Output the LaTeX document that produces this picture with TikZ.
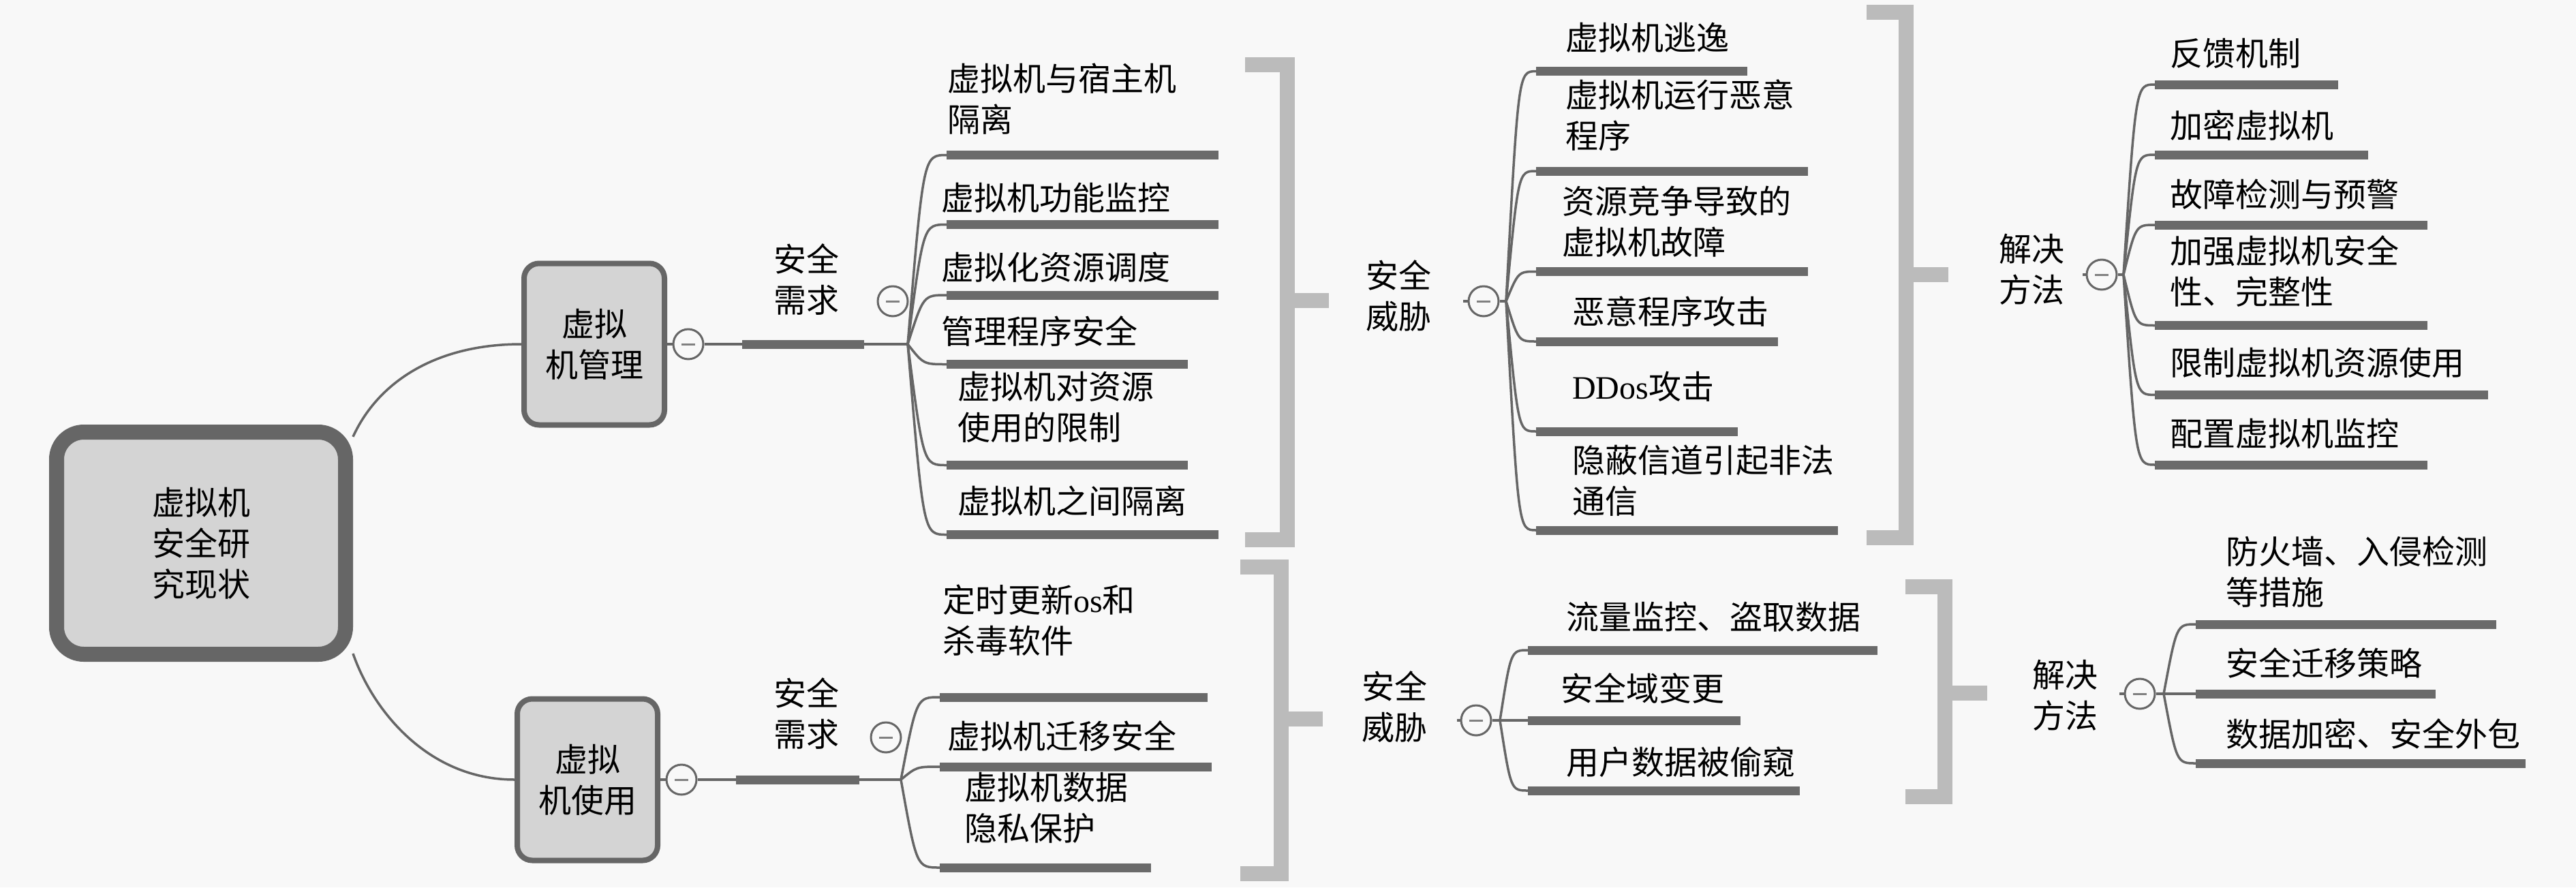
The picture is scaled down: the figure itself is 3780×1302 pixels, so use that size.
\documentclass[tikz,border=0pt]{standalone}
\usepackage{fontspec}
\setmainfont{Liberation Serif}
\newfontfamily\cjk{Noto Sans CJK SC}
\definecolor{bgc}{HTML}{F8F8F8}
\definecolor{dk}{HTML}{666666}
\definecolor{barc}{HTML}{6A6A6A}
\definecolor{brk}{HTML}{BBBBBB}
\definecolor{nfill}{HTML}{D4D4D4}
\newcommand\leaf[7]{%
  \coordinate (#1) at (#2,#3);
  \draw[barline] (#1) -- (#4,#3);
  \node[lbl] (#1t) at (#5,#6) {#7};
}
\begin{document}
\begin{tikzpicture}[x=1pt,y=-1pt,
  every node/.style={font=\cjk\fontsize{48}{60}\selectfont, text=black, inner sep=0pt},
  mainbox/.style={draw=dk, fill=nfill, rounded corners=40pt, line width=22pt, minimum width=424pt, minimum height=326pt, align=center},
  subbox/.style={draw=dk, fill=nfill, rounded corners=22pt, line width=8pt, minimum width=206pt, minimum height=237pt, align=center},
  collapse/.style={circle, draw=dk, line width=3pt, minimum size=44pt,
     path picture={\draw[line width=3pt, draw=gray] ([xshift=-10pt]path picture bounding box.center) -- ([xshift=10pt]path picture bounding box.center);}},
  lbl/.style={anchor=west, align=left},
  sumlbl/.style={align=center},
  barline/.style={draw=barc, line width=13pt},
  branch/.style={draw=dk, line width=3.5pt},
  brace/.style={draw=brk, line width=22pt, line join=miter}]
\fill[bgc] (0,0) rectangle (3780,1302);
\useasboundingbox (0,0) rectangle (3780,1302);

% main nodes
\node[mainbox] (root) at (295,797) {虚拟机\\安全研\\究现状};
\node[subbox] (vm1) at (872,505) {虚拟\\机管理};
\node[subbox] (vm2) at (862,1144) {虚拟\\机使用};
\draw[branch] (root.35) .. controls (555,560) and (640,505) .. (vm1.west);
\draw[branch] (root.-36) .. controls (548,1045) and (630,1144) .. (vm2.west);

% ---------- upper: 安全需求 ----------
\node[collapse] (c1) at (1010,505) {};
\draw[branch] (vm1.east) -- (c1.west);
\coordinate (s1a) at (1089,505);
\coordinate (s1b) at (1268,505);
\coordinate (j1) at (1332,505);
\draw[branch] (c1.east) -- (s1a);
\draw[barline] (s1a) -- (s1b);
\draw[branch] (s1b) -- (j1);
\node[sumlbl] (req1) at (1183,410) {安全\\需求};
\node[collapse] (c3) at (1310,442) {};

\leaf{a1}{1389}{227.5}{1788}{1390}{145.5}{虚拟机与宿主机\\隔离}
\leaf{a2}{1389}{329.5}{1788}{1381}{290}{虚拟机功能监控}
\leaf{a3}{1389}{433}{1788}{1381}{392}{虚拟化资源调度}
\leaf{a4}{1389}{534.5}{1743}{1381}{486}{管理程序安全}
\leaf{a5}{1389}{682.5}{1743}{1405}{597.5}{虚拟机对资源\\使用的限制}
\leaf{a6}{1389}{784.5}{1788}{1405}{735}{虚拟机之间隔离}
\draw[branch] (j1) .. controls (1355,227.5) .. (a1);
\draw[branch] (j1) .. controls (1355,329.5) .. (a2);
\draw[branch] (j1) .. controls (1355,433) .. (a3);
\draw[branch] (j1) .. controls (1355,534.5) .. (a4);
\draw[branch] (j1) .. controls (1355,682.5) .. (a5);
\draw[branch] (j1) .. controls (1355,784.5) .. (a6);

\draw[brace] (1827,95) -- (1889,95) -- (1889,792) -- (1827,792);
\draw[brace] (1889,441) -- (1950,441);

% ---------- upper: 安全威胁 ----------
\node[sumlbl] (thr1) at (2052,434) {安全\\威胁};
\node[collapse] (c4) at (2177,442) {};
\coordinate (c4s) at (2147,442);
\coordinate (j2) at (2210,442);
\draw[branch] (c4s) -- (c4.west);
\draw[branch] (c4.east) -- (j2);
\leaf{b1}{2254}{104.6}{2564}{2297}{55}{虚拟机逃逸}
\leaf{b2}{2254}{251}{2653}{2297}{169.5}{虚拟机运行恶意\\程序}
\leaf{b3}{2254}{398.5}{2653}{2292}{325.5}{资源竞争导致的\\虚拟机故障}
\leaf{b4}{2254}{501}{2609}{2307}{457.6}{恶意程序攻击}
\leaf{b5}{2254}{633}{2550}{2307}{567.5}{{\rmfamily DDos}攻击}
\leaf{b6}{2254}{778}{2697}{2307}{705}{隐蔽信道引起非法\\通信}
\draw[branch] (j2) .. controls (2228,104.6) .. (b1);
\draw[branch] (j2) .. controls (2228,251) .. (b2);
\draw[branch] (j2) .. controls (2228,398.5) .. (b3);
\draw[branch] (j2) .. controls (2228,501) .. (b4);
\draw[branch] (j2) .. controls (2228,633) .. (b5);
\draw[branch] (j2) .. controls (2228,778) .. (b6);

\draw[brace] (2739,17.5) -- (2797,17.5) -- (2797,789) -- (2739,789);
\draw[brace] (2797,403) -- (2859,403);

% ---------- upper: 解决方法 ----------
\node[sumlbl] (sol1) at (2981,395) {解决\\方法};
\node[collapse] (c5) at (3084,403) {};
\coordinate (c5s) at (3056,403);
\coordinate (j3) at (3116,403);
\draw[branch] (c5s) -- (c5.west);
\draw[branch] (c5.east) -- (j3);
\leaf{f1}{3162}{124}{3431}{3184}{78}{反馈机制}
\leaf{f2}{3162}{227}{3475}{3184}{184}{加密虚拟机}
\leaf{f3}{3162}{330}{3562}{3184}{285}{故障检测与预警}
\leaf{f4}{3162}{477.5}{3562}{3184}{398}{加强虚拟机安全\\性、完整性}
\leaf{f5}{3162}{579.4}{3651}{3184}{532.6}{限制虚拟机资源使用}
\leaf{f6}{3162}{682}{3562}{3184}{636}{配置虚拟机监控}
\draw[branch] (j3) .. controls (3134,124) .. (f1);
\draw[branch] (j3) .. controls (3134,227) .. (f2);
\draw[branch] (j3) .. controls (3134,330) .. (f3);
\draw[branch] (j3) .. controls (3134,477.5) .. (f4);
\draw[branch] (j3) .. controls (3134,579.4) .. (f5);
\draw[branch] (j3) .. controls (3134,682) .. (f6);

% ---------- lower: 安全需求 ----------
\node[collapse] (c2) at (1000,1144) {};
\draw[branch] (vm2.east) -- (c2.west);
\coordinate (s2a) at (1080,1144);
\coordinate (s2b) at (1261,1144);
\coordinate (j4) at (1322,1144);
\draw[branch] (c2.east) -- (s2a);
\draw[barline] (s2a) -- (s2b);
\draw[branch] (s2b) -- (j4);
\node[sumlbl] (req2) at (1183,1047.5) {安全\\需求};
\node[collapse] (c6) at (1300,1082) {};
\leaf{d1}{1379}{1023}{1772}{1383}{910}{定时更新{\rmfamily os}和\\杀毒软件}
\leaf{d2}{1379}{1125}{1778}{1390}{1080}{虚拟机迁移安全}
\leaf{d3}{1379}{1273}{1689}{1415}{1185}{虚拟机数据\\隐私保护}
\draw[branch] (j4) .. controls (1345,1023) .. (d1);
\draw[branch] (j4) .. controls (1345,1125) .. (d2);
\draw[branch] (j4) .. controls (1345,1273) .. (d3);

\draw[brace] (1820,832) -- (1880,832) -- (1880,1282) -- (1820,1282);
\draw[brace] (1880,1055) -- (1941,1055);

% ---------- lower: 安全威胁 ----------
\node[sumlbl] (thr2) at (2046,1037.5) {安全\\威胁};
\node[collapse] (c7) at (2166,1057) {};
\coordinate (c7s) at (2138,1057);
\coordinate (j5) at (2201,1057);
\draw[branch] (c7s) -- (c7.west);
\draw[branch] (c7.east) -- (j5);
\leaf{e1}{2242}{954}{2755}{2298}{905}{流量监控、盗取数据}
\leaf{e2}{2242}{1057}{2554}{2290}{1010}{安全域变更}
\leaf{e3}{2242}{1160}{2641}{2298}{1118}{用户数据被偷窥}
\draw[branch] (j5) .. controls (2217,954) .. (e1);
\draw[branch] (j5) -- (e2);
\draw[branch] (j5) .. controls (2217,1160) .. (e3);

\draw[brace] (2796,861) -- (2854,861) -- (2854,1169) -- (2796,1169);
\draw[brace] (2854,1017) -- (2916,1017);

% ---------- lower: 解决方法 ----------
\node[sumlbl] (sol2) at (3030,1020) {解决\\方法};
\node[collapse] (c8) at (3140,1018) {};
\coordinate (c8s) at (3110,1018);
\coordinate (j6) at (3175,1018);
\draw[branch] (c8s) -- (c8.west);
\draw[branch] (c8.east) -- (j6);
\leaf{g1}{3222}{916}{3663}{3266}{839}{防火墙、入侵检测\\等措施}
\leaf{g2}{3222}{1018}{3574}{3266}{973}{安全迁移策略}
\leaf{g3}{3222}{1120}{3706}{3266}{1077}{数据加密、安全外包}
\draw[branch] (j6) .. controls (3194,916) .. (g1);
\draw[branch] (j6) -- (g2);
\draw[branch] (j6) .. controls (3194,1120) .. (g3);
\end{tikzpicture}
\end{document}
